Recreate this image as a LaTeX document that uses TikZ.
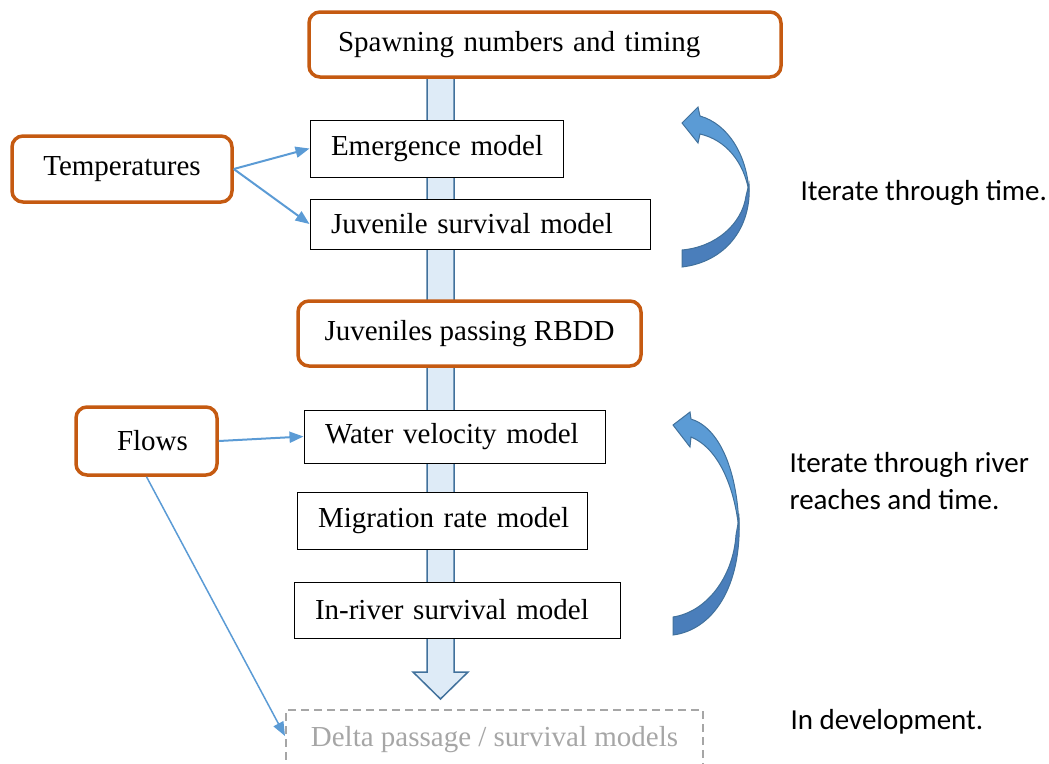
\documentclass[tikz,border=0pt]{standalone}
\usepackage{fontspec}
\setmainfont{Liberation Serif}
\newfontfamily\notefont{Carlito}
\usetikzlibrary{arrows.meta, calc, backgrounds}
\definecolor{corange}{HTML}{C55A11}
\definecolor{cblue}{HTML}{5B9BD5}
\definecolor{cdark}{HTML}{41719C}
\definecolor{cturn}{HTML}{4A7EBB}
\definecolor{cshaft}{HTML}{DEEBF7}
\definecolor{cgrey}{HTML}{A6A6A6}
\tikzset{
  every picture/.style={font=\fontsize{29}{37}\selectfont},
  box/.style={draw=black, line width=1pt, fill=white, align=left, inner xsep=0pt, text width=#1,
    execute at begin node=\hspace*{21pt}},
  inbox/.style={draw=corange, line width=3.5pt, rounded corners=11pt, fill=white, align=center},
  devbox/.style={draw=cgrey, line width=2pt, dash pattern=on 8pt off 5pt, text=cgrey, align=center},
  link/.style={-{Triangle[length=14pt,width=11pt]}, draw=cblue, line width=2pt},
  shaft/.style={draw=cdark, fill=cshaft, line width=1.5pt, line join=miter},
  turn/.style={fill=cblue, draw=cdark, line width=1pt},
  turndark/.style={fill=cturn, draw=cdark, line width=1pt},
  note/.style={font=\notefont\fontsize{29}{37}\selectfont, anchor=west, align=left},
}

\begin{document}
\begin{tikzpicture}[x=1pt, y=-1pt]
  \useasboundingbox (0,0) rectangle (1049,763);
  % main chain
  \node[inbox, align=left, inner xsep=0pt, text width=472pt, minimum height=65pt] (spawn) at (545,44.5) {\hspace*{29pt}Spawning numbers and timing};
  \node[box=253pt, minimum height=57pt] (emerg) at (436.5,148.5) {Emergence model};
  \node[box=340pt, minimum height=50pt] (juv) at (480,224) {Juvenile survival model};
  \node[inbox, minimum width=343pt, minimum height=65pt] (rbdd) at (469.5,333.5) {Juveniles passing RBDD};
  \node[box=301pt, minimum height=53pt] (water) at (454.5,436.5) {Water velocity model};
  \node[box=290pt, minimum height=57pt] (migr) at (442,520.5) {Migration rate model};
  \node[box=326pt, minimum height=56pt] (inriv) at (457,610) {In-river survival model};
  \node[devbox, minimum width=417pt, minimum height=60pt] (delta) at (494.5,740) {Delta passage / survival models};
  % inputs
  \node[inbox, minimum width=220pt, minimum height=66pt] (temp) at (122,169) {Temperatures};
  \node[inbox, minimum width=141pt, minimum height=68pt] (flows) at (146.5,441) {\hspace*{12pt}Flows};
  \draw[link] (temp.east) -- (emerg.west);
  \draw[link] (temp.east) -- (juv.west);
  \draw[link] (flows.east) -- (water.west);
  \draw[link, line width=1.5pt] (flows.south) -- ([yshift=4pt]delta.west);
  % big down arrow behind the boxes
  \coordinate (tip) at (440.5,699);
  \begin{scope}[on background layer]
    \path (spawn.south -| tip) coordinate (top);
    \draw[shaft] ($(top)+(-13.5,0)$) -- ($(tip)+(-13.5,-27)$) -- ($(tip)+(-27.5,-27)$) -- (tip)
      -- ($(tip)+(27.5,-27)$) -- ($(tip)+(13.5,-27)$) -- ($(top)+(13.5,0)$);
  \end{scope}
  % loop arrows
  \filldraw[turndark] (749,184) .. controls (752,228) and (725,262) .. (682,267) -- (682,250)
    .. controls (716,247) and (742,224) .. (746,196) -- cycle;
  \filldraw[turn] (700,116) .. controls (728,124) and (747,155) .. (749,192)
    .. controls (744,162) and (726,140) .. (700,134) -- (698,143) -- (682,123) -- (698,107) -- cycle;
  \filldraw[turndark] (739,518) .. controls (742,588) and (712,630) .. (673,635) -- (673,617)
    .. controls (706,612) and (733,578) .. (736,535) -- cycle;
  \filldraw[turn] (691,419) .. controls (720,428) and (738,472) .. (739,530)
    .. controls (734,482) and (716,447) .. (691,437) -- (690,447) -- (673,425) -- (690,412) -- cycle;
  % notes
  \node[note] (n1) at (797,193) {Iterate through time.};
  \node[note] (n2) at (786,481) {Iterate through river\\reaches and time.};
  \node[note] (n3) at (787,722) {In development.};
\end{tikzpicture}
\end{document}
